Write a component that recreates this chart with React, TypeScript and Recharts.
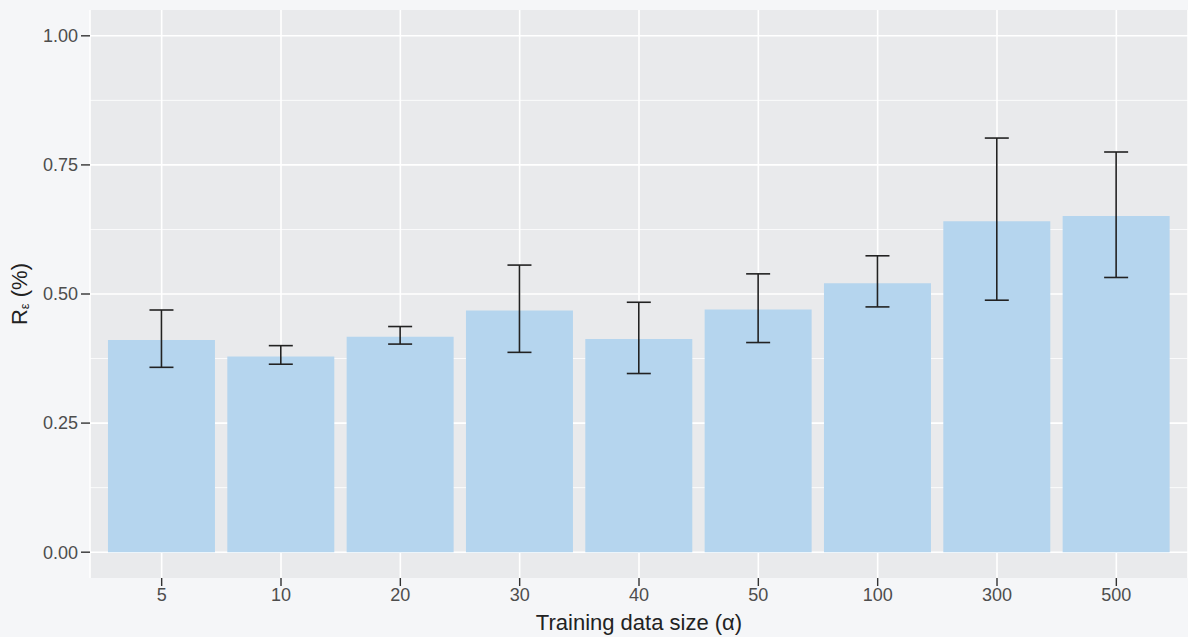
import { BarChart, Bar, XAxis, YAxis, CartesianGrid, ErrorBar } from 'recharts';

// Training data sizes (alpha) and measured R_eps with error bounds
const sizes = ['5', '10', '20', '30', '40', '50', '100', '300', '500'];
const means = [0.411, 0.379, 0.417, 0.468, 0.413, 0.470, 0.521, 0.641, 0.651];
const lowers = [0.358, 0.364, 0.403, 0.387, 0.346, 0.406, 0.475, 0.488, 0.532];
const uppers = [0.469, 0.400, 0.437, 0.556, 0.484, 0.539, 0.574, 0.802, 0.775];
const yTicks = [0, 0.25, 0.5, 0.75, 1];
const minorTicks = [0.125, 0.375, 0.625, 0.875];

const data = sizes.map((s, i) => ({
  size: s,
  value: means[i],
  err: [means[i] - lowers[i], uppers[i] - means[i]],
}));

const FONT = '"Liberation Sans", Arial, sans-serif';

const YTitle = (props: any) => {
  const vb = props.viewBox || {};
  const cx = 19;
  const cy = (vb.y ?? 0) + (vb.height ?? 0) / 2;
  return (
    <text
      x={cx}
      y={cy}
      transform={`rotate(-90, ${cx}, ${cy})`}
      textAnchor="middle"
      dominantBaseline="central"
      fill="#222"
      fontSize={22}
      fontFamily={FONT}
    >
      R
      <tspan fontSize={13} dy={5}>ε</tspan>
      <tspan dy={-5}> (%)</tspan>
    </text>
  );
};

export default function App() {
  return (
    <div style={{ position: 'absolute', left: 0, top: 0, width: 1188, height: 637, background: '#f5f6f8' }}>
      <BarChart
        width={1188}
        height={637}
        data={data}
        margin={{ top: 10, right: 0, bottom: 0, left: 0 }}
        barCategoryGap="5%"
      >
        <CartesianGrid
          fill="#e9eaec"
          stroke="#ffffff"
          strokeWidth={0.8}
          vertical={false}
          horizontalValues={minorTicks}
        />
        <CartesianGrid stroke="#ffffff" strokeWidth={1.6} horizontalValues={yTicks} />
        <XAxis
          dataKey="size"
          height={59}
          padding={{ left: 12, right: 12 }}
          axisLine={false}
          tickLine={{ stroke: '#333', strokeWidth: 1.4 }}
          tickSize={8}
          tickMargin={2}
          tick={{ fill: '#4d4d4d', fontSize: 18, fontFamily: FONT }}
          label={{ value: 'Training data size (α)', position: 'insideBottom', offset: 7, fill: '#222', fontSize: 22, fontFamily: FONT }}
        />
        <YAxis
          type="number"
          domain={[-0.05, 1.05]}
          ticks={yTicks}
          width={90}
          axisLine={false}
          tickLine={{ stroke: '#333', strokeWidth: 1.4 }}
          tickSize={9}
          tickMargin={3}
          tickFormatter={(v: number) => v.toFixed(2)}
          tick={{ fill: '#4d4d4d', fontSize: 18, fontFamily: FONT }}
          allowDataOverflow
          label={<YTitle />}
        />
        <Bar dataKey="value" fill="#b5d5ee" isAnimationActive={false}>
          <ErrorBar dataKey="err" width={12} stroke="#222" strokeWidth={1.6} direction="y" />
        </Bar>
      </BarChart>
    </div>
  );
}
